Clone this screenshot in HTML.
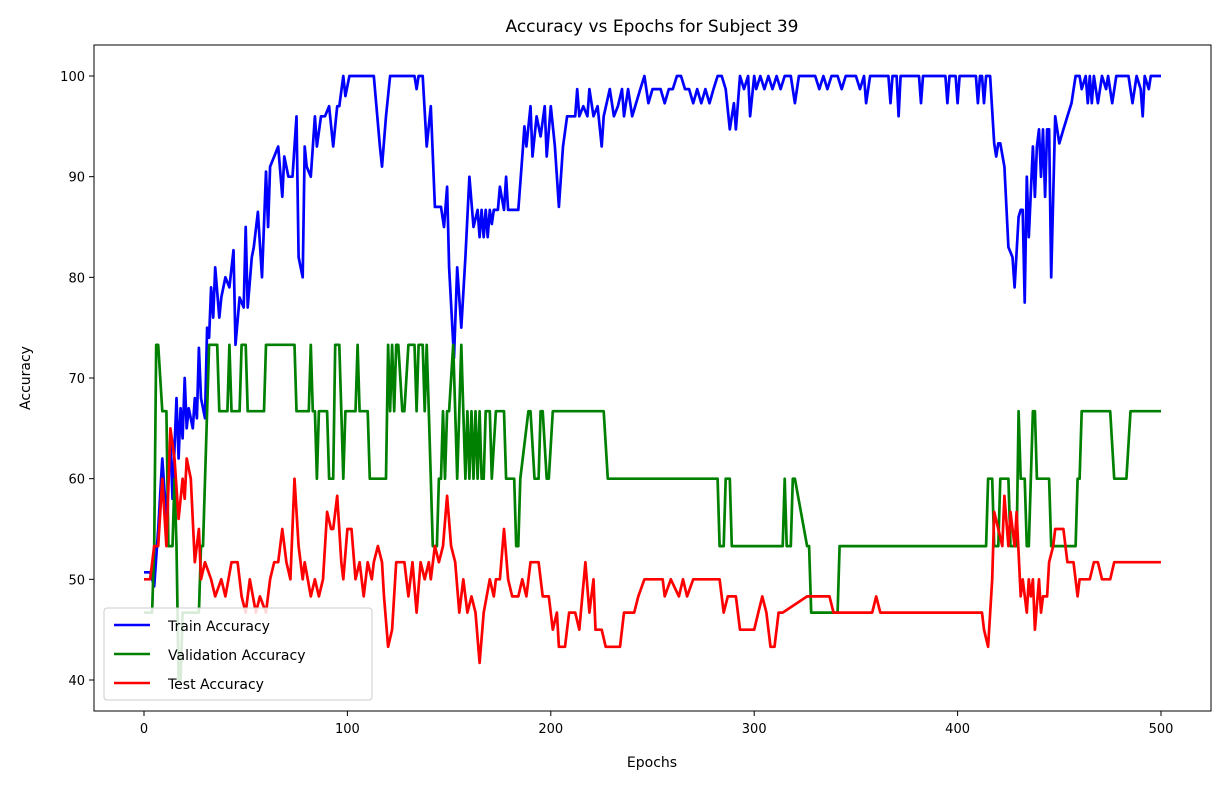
<!DOCTYPE html>
<html><head><meta charset="utf-8"><style>
body{margin:0;background:#fff;}
svg{font-family:"DejaVu Sans","Liberation Sans",sans-serif;}
</style></head><body>
<svg id="chart" width="1224" height="785" viewBox="0 0 1224 785" xmlns="http://www.w3.org/2000/svg">
<rect width="1224" height="785" fill="#fff"/>
<text x="652" y="32" text-anchor="middle" font-size="17">Accuracy vs Epochs for Subject 39</text>
<g id="plot"></g>
<rect x="94" y="45" width="1117" height="666" fill="none" stroke="#000" stroke-width="1"/>
<text x="652" y="767" text-anchor="middle" font-size="14">Epochs</text>
<text x="30" y="378" text-anchor="middle" font-size="14" transform="rotate(-90 30 378)">Accuracy</text>
<g>
<rect x="104" y="608" width="268" height="92" rx="3" fill="#fff" fill-opacity="0.85" stroke="#ccc"/>
<line x1="114" y1="625" x2="150" y2="625" stroke="#0000ff" stroke-width="2.5"/>
<text x="168" y="631" font-size="14">Train Accuracy</text>
<line x1="114" y1="654" x2="150" y2="654" stroke="#008000" stroke-width="2.5"/>
<text x="168" y="660" font-size="14">Validation Accuracy</text>
<line x1="114" y1="683" x2="150" y2="683" stroke="#ff0000" stroke-width="2.5"/>
<text x="168" y="689" font-size="14">Test Accuracy</text>
</g>
</svg>
<script>
const xTicks=[0,100,200,300,400,500];
const yTicks=[40,50,60,70,80,90,100];
const trainEpochs=[
0,3,5,7,9,11,13,14,16,17,
18,19,20,21,22,24,25,26,27,28,
30,31,32,33,34,35,37,38,40,42,
44,45,47,49,50,51,53,54,56,58,
60,61,62,64,66,68,69,71,73,75,
76,78,79,80,82,84,85,87,89,91,
93,95,96,98,99,101,102,105,108,111,
113,116,117,119,121,124,127,130,133,134,
135,137,139,141,143,146,147.5,149,150,152.4,
154,156,158,160,162,164,165,166,167,168,
169,170,171,172,174,175,177,178,179,182,
184,186,187,188,190,191,193,195,197,198,
200,202,204,206,208,210,212,213,214,216,
218,219,221,223,225,226,229,231,233,235,
236,238,240,244,246,248,250,254,256,258,
260,262,264,266,268,270,272,274,276,278,
280,282,284,286,288,290,291,293,295,297,
298,300,301,303,305,307,309,311,313,315,
318,320,322,330,332,334,336,338,341,343,
345,350,352,354,355,357,366,367,368,370,
371,372,381,382,383,394,395,396,399,400,
401,409,410,411,412,413,414,416,418,419,
420,421,423,425,427,428,430,431,432,433,
434,435,437,438,439,440,441,442,443,444,
445,446,448,450,452,454,456,458,460,461,
463,464,465,466,467,469,471,473,474,476,
478,484,486,488,490,491,492,494,495,500];
const trainValues=[
50.7,50.7,49.3,55,62,56,64,58,68,62,
67,64,70,65,67,65,68,66,73,68,
66,75,74,79,76,81,76,78,80,79,
82.7,73.3,78,77,85,77,82,83,86.5,80,
90.5,85,91,92,93,88,92,90,90,96,
82,80,93,91,90,96,93,96,96,97,
93,97,97,100,98,100,100,100,100,100,
100,93,91,96,100,100,100,100,100,98.7,
100,100,93,97,87,87,85,89,81,72,
81,75,82,90,85,86.7,84,86.7,84,86.7,
84,86.7,85.3,86.7,86.7,89,86.7,90,86.7,86.7,
86.7,92,95,93,97,92,96,94,97,92,
97,93,87,93,96,96,96,98.7,96,97,
96,98.7,96,97,93,96,98.7,96,97,98.7,
96,98.7,96,98.7,100,97.3,98.7,98.7,97.3,98.7,
98.7,100,100,98.7,98.7,97.3,98.7,97.3,98.7,97.3,
98.7,100,100,98.7,94.7,97.3,94.7,100,98.7,100,
96,100,98.7,100,98.7,100,98.7,100,98.7,100,
100,97.3,100,100,98.7,100,98.7,100,100,98.7,
100,100,98.7,100,97.3,100,100,97.3,100,100,
96,100,100,97.3,100,100,97.3,100,100,97.3,
100,100,97.3,100,100,97.3,100,100,93.3,92,
93.3,93.3,91,83,82,79,86,86.7,86.7,77.5,
90,84,93,88,93,94.7,90,94.7,88,94.7,
94.7,80,96,93.3,94.7,96,97.3,100,100,98.7,
100,97.3,100,97.3,100,97.3,100,98.7,100,97.3,
100,100,97.3,100,98.7,96,100,98.7,100,100];
const valEpochs=[0,4,5,6,7,9,11,12,14,15,16,17,18,19,27,28,29,31,32,36,37,41,42,43,47,48,50,51,59,60,74,75,76,81,82,83,84,85,86,90,91,93,94,96,97,98,99,100,104,105,106,110,111,113,119,120,121,122,123,124,125,127,128,130,133,134,135,137,138,139,140,142,144,145,146,147,148,149,150,152,153,154,155,156,157,158,159,160,161,162,163,164,165,166,167,168,170,171,173,175,177,178,182,183,184,185,189,190,192,194,195,196,198,199,201,202,203,226,228,282,283,285,286,288,289,314,315,316,318,319,320,326,327,328,329,341,342,414,415,417,418,420,421,425,426,429,430,431,433,434,435,437,438,439,440,445,446,458,459,460,461,475,477,483,485,500];
const valValues=[46.7,46.7,53.3,73.3,73.3,66.7,66.7,53.3,53.3,60,53.3,40,40,46.7,46.7,53.3,53.3,66.7,73.3,73.3,66.7,66.7,73.3,66.7,66.7,73.3,73.3,66.7,66.7,73.3,73.3,66.7,66.7,66.7,73.3,66.7,66.7,60,66.7,66.7,60,60,73.3,73.3,66.7,60,66.7,66.7,66.7,73.3,66.7,66.7,60,60,60,73.3,66.7,73.3,66.7,73.3,73.3,66.7,66.7,73.3,73.3,66.7,73.3,73.3,66.7,73.3,66.7,53.3,53.3,60,60,66.7,60,66.7,66.7,73.3,66.7,60,66.7,73.3,66.7,60,66.7,60,66.7,60,66.7,60,66.7,60,60,66.7,66.7,60,66.7,66.7,66.7,60,60,53.3,53.3,60,66.7,66.7,60,60,66.7,66.7,60,60,66.7,66.7,66.7,66.7,60,60,53.3,53.3,60,60,53.3,53.3,60,53.3,53.3,60,60,53.3,53.3,46.7,46.7,46.7,53.3,53.3,60,60,53.3,53.3,60,60,53.3,53.3,66.7,60,60,53.3,53.3,66.7,66.7,60,60,60,53.3,53.3,60,60,66.7,66.7,60,60,66.7,66.7];
const testEpochs=[0,3,5,7,9,11,13,15,17,19,20,21,23,25,27,28,30,33,35,38,40,43,46,48,50,52,55,57,60,62,64,66,68,70,72,74,76,78,79,82,84,86,88,90,92,93,95,97,98,100,102,104,106,108,110,112,113,115,117,118,120,122,124,128,130,132,134,136,138,140,141,143,145,147,149,151,153,155,157,159,161,163,165,167,170,172,173,175,177,179,181,184,186,188,190,194,196,199,201,203,204,207,209,212,214,217,219,221,222,225,227,234,236,241,243,246,255,256,259,263,265,267,270,283,285,287,291,293,300,302,304,306,308,310,312,314,326,337,339,358,360,362,412,413,415,417,418,420,422,423,425,426,428,429,431,432,434,435,436,437,438,440,441,442,444,445,447,448,452,454,457,459,460,465,467,469,471,475,477,500];
const testValues=[50,50,53.3,53.3,60,53.3,65,62,56,60,58,62,60,51.7,55,50,51.7,50,48.3,50,48.3,51.7,51.7,48.3,46.7,50,46.7,48.3,46.7,50,51.7,51.7,55,51.7,50,60,53.3,50,51.7,48.3,50,48.3,50,56.7,55,55,58.3,51.7,50,55,55,50,51.7,48.3,51.7,50,51.7,53.3,51.7,48.3,43.3,45,51.7,51.7,48.3,51.7,46.7,51.7,50,51.7,50,53.3,51.7,53.3,58.3,53.3,51.7,46.7,50,46.7,48.3,46.7,41.7,46.7,50,48.3,50,50,55,50,48.3,48.3,50,48.3,51.7,51.7,48.3,48.3,45,46.7,43.3,43.3,46.7,46.7,45,51.7,46.7,50,45,45,43.3,43.3,46.7,46.7,48.3,50,50,48.3,50,48.3,50,48.3,50,50,46.7,48.3,48.3,45,45,46.7,48.3,46.7,43.3,43.3,46.7,46.7,48.3,48.3,46.7,46.7,48.3,46.7,46.7,45,43.3,50,56.7,55,53.3,58.3,53.3,56.7,53.3,56.7,48.3,50,46.7,50,48.3,50,45,50,46.7,48.3,48.3,51.7,53.3,55,55,51.7,51.7,48.3,50,50,51.7,51.7,50,50,51.7,51.7];

const NS='http://www.w3.org/2000/svg';
const L=94,R=1211,T=45,B=711;
function xScale(e){return 144+(e/500)*(1161-144);}
function yScale(v){return 76+(100-v)*(680-76)/60;}
const plot=document.getElementById('plot');
const svg=document.getElementById('chart');
xTicks.forEach(t=>{
  const x=xScale(t);
  const ln=document.createElementNS(NS,'line');
  
  
  ln.setAttribute('x1',x);ln.setAttribute('x2',x);ln.setAttribute('y1',B);ln.setAttribute('y2',B+5);ln.setAttribute('stroke','#000');
  svg.appendChild(ln);
  const tx=document.createElementNS(NS,'text');
  
  
  tx.setAttribute('x',x);tx.setAttribute('y',B+22);tx.setAttribute('text-anchor','middle');tx.setAttribute('font-size','13');
  tx.textContent=t;svg.appendChild(tx);
});
yTicks.forEach(t=>{
  const y=yScale(t);
  const ln=document.createElementNS(NS,'line');
  
  
  ln.setAttribute('x1',L-5);ln.setAttribute('x2',L);ln.setAttribute('y1',y);ln.setAttribute('y2',y);ln.setAttribute('stroke','#000');
  svg.appendChild(ln);
  const tx=document.createElementNS(NS,'text');
  
  
  tx.setAttribute('x',L-9);tx.setAttribute('y',y+5);tx.setAttribute('text-anchor','end');tx.setAttribute('font-size','13');
  tx.textContent=t;svg.appendChild(tx);
});
function line(ep,vals,color,name){
  const p=document.createElementNS(NS,'polyline');
  
  
  const n=Math.min(ep.length,vals.length);
  const pts=[];
  for(let i=0;i<n;i++)pts.push(xScale(ep[i]).toFixed(1)+','+yScale(vals[i]).toFixed(1));
  p.setAttribute('points',pts.join(' '));
  p.setAttribute('fill','none');p.setAttribute('stroke',color);p.setAttribute('stroke-width','2.7');p.setAttribute('stroke-linejoin','round');
  plot.appendChild(p);
}
line(trainEpochs,trainValues,'#0000ff','train-accuracy-line');
line(valEpochs,valValues,'#008000','validation-accuracy-line');
line(testEpochs,testValues,'#ff0000','test-accuracy-line');
</script>
</body></html>
